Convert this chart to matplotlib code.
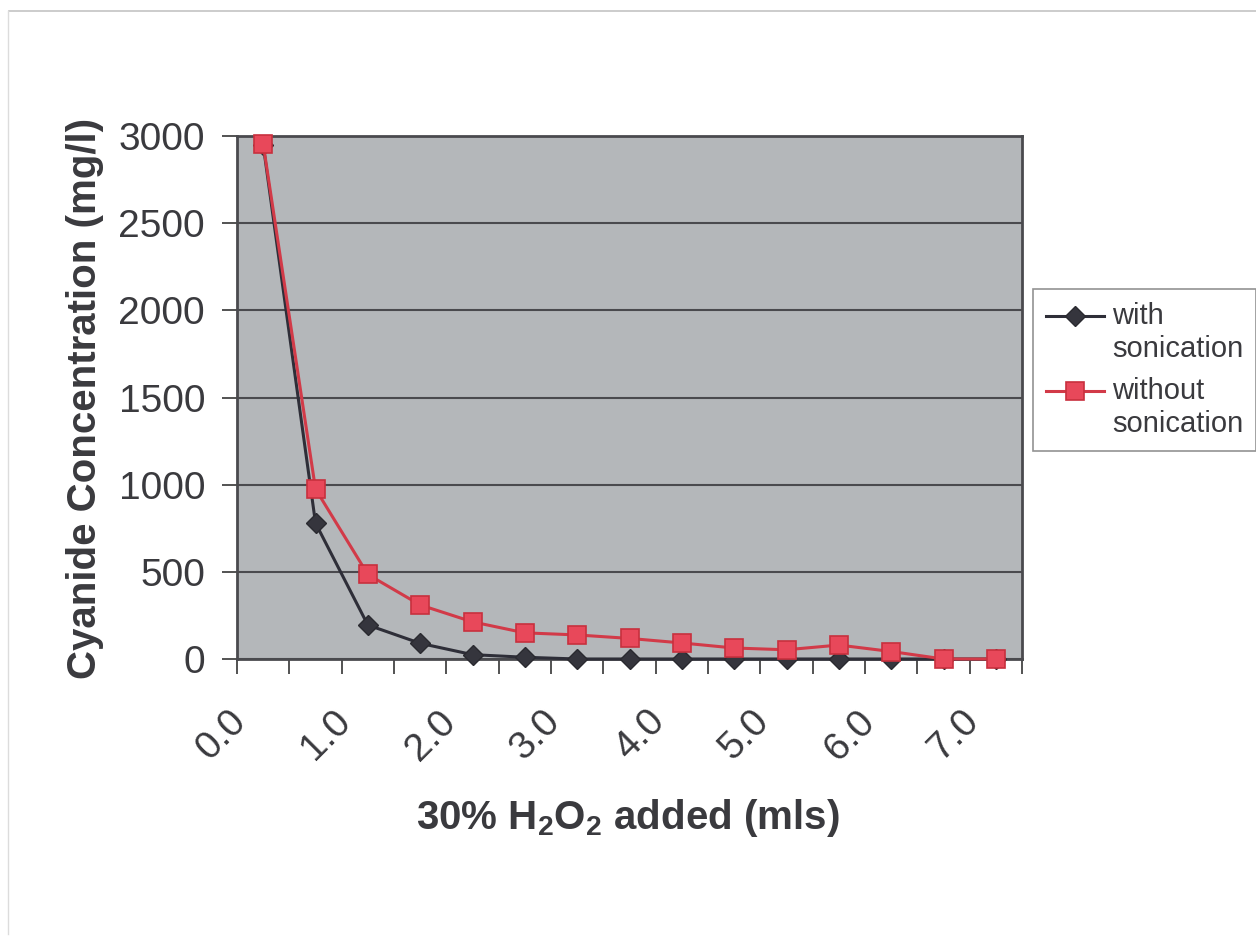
import matplotlib
matplotlib.use("Agg")
import matplotlib.pyplot as plt
from matplotlib.lines import Line2D
from matplotlib.legend_handler import HandlerLine2D
from matplotlib.transforms import ScaledTranslation
import numpy as np

plt.rcParams["font.family"] = ["Liberation Sans", "DejaVu Sans"]
plt.rcParams["mathtext.fontset"] = "custom"
plt.rcParams["mathtext.rm"] = "Liberation Sans"
plt.rcParams["mathtext.bf"] = "Liberation Sans:bold"

# 15 categories, 0.0 .. 7.0 mls in 0.5 steps; only every other one labelled
categories = ["0.0", "0.5", "1.0", "1.5", "2.0", "2.5", "3.0", "3.5",
              "4.0", "4.5", "5.0", "5.5", "6.0", "6.5", "7.0"]
with_sonication = [2950, 780, 195, 90, 25, 10, 0, 0, 0, 0, 0, 0, 0, 0, 0]
without_sonication = [2955, 975, 485, 310, 213, 150, 138, 118, 92, 63, 53, 80, 43, 0, 0]
y_ticks = [0, 500, 1000, 1500, 2000, 2500, 3000]

text_col = "#3a3a3e"
W, H = 1256, 943


class FirstLineHandler(HandlerLine2D):
    """Legend handle sitting on the first line of a two-line label (Excel style)."""

    def __init__(self, shift, **kw):
        super().__init__(**kw)
        self.shift = shift

    def create_artists(self, legend, orig_handle, xdescent, ydescent, width,
                       height, fontsize, trans):
        arts = super().create_artists(legend, orig_handle, xdescent, ydescent,
                                      width, height, fontsize, trans)
        for a in arts:
            a.set_ydata(np.asarray(a.get_ydata()) + self.shift)
        return arts


fig = plt.figure(figsize=(W / 100, H / 100), dpi=100)
fig.patch.set_facecolor("white")

left, right, top, bottom = 237, 1022, 136, 659
ax = fig.add_axes([left / W, 1 - bottom / H, (right - left) / W, (bottom - top) / H])
ax.set_facecolor("#b4b7ba")

x = np.arange(len(categories))
l1, = ax.plot(x, with_sonication, color="#2e2e38", lw=2.2, marker="D", ms=10,
              mfc="#35353d", mec="#2a2a30", label="with\nsonication", zorder=3,
              clip_on=False)
l2, = ax.plot(x, without_sonication, color="#d23a48", lw=2.2, marker="s", ms=13,
              mfc="#e8485a", mec="#c8303e", mew=1.2, label="without\nsonication",
              zorder=4, clip_on=False)

ax.set_xlim(-0.5, len(categories) - 0.5)
ax.set_ylim(0, 3000)

# tick marks between categories, labels on every second category
ax.set_xticks(np.arange(-0.5, len(categories), 1.0))
ax.set_xticklabels([])
ax.set_xticks(x[::2], minor=True)
ax.set_xticklabels(categories[::2], minor=True, rotation=45, ha="right",
                   fontsize=28, color=text_col)
ax.tick_params(axis="x", which="major", length=11, width=1.3, color="#444444",
               direction="out")
ax.tick_params(axis="x", which="minor", length=0, pad=32)
shift = ScaledTranslation(-7 / 72, 0, fig.dpi_scale_trans)
for lab in ax.get_xticklabels(minor=True):
    lab.set_transform(lab.get_transform() + shift)

ax.set_yticks(y_ticks)
ax.set_yticklabels([str(v) for v in y_ticks], fontsize=28, color=text_col)
ax.tick_params(axis="y", length=11, width=1.3, color="#444444", pad=12)

ax.yaxis.grid(True, color="#4a4a4e", lw=1.5)
ax.set_axisbelow(True)
for s in ax.spines.values():
    s.set_color("#4a4a4e")
    s.set_linewidth(2.0)

fig.text(85 / W, 1 - 398 / H, "Cyanide Concentration (mg/l)", rotation=90,
         ha="center", va="center", fontsize=29, fontweight="bold", color=text_col)
fig.text(628 / W, 1 - 818 / H,
         r"30% H$_\mathbf{2}$O$_\mathbf{2}$ added (mls)",
         ha="center", va="center", fontsize=29, fontweight="bold", color=text_col)

hmap = {l1: FirstLineHandler(12), l2: FirstLineHandler(12)}
leg = fig.legend(handles=[l1, l2], handler_map=hmap, loc="upper left",
                 bbox_to_anchor=(1033 / W, 1 - 289 / H),
                 fontsize=21, frameon=True, fancybox=False, borderpad=0.45,
                 handlelength=2.0, handletextpad=0.25, labelspacing=0.5,
                 borderaxespad=0)
leg.get_frame().set_edgecolor("#777777")
leg.get_frame().set_linewidth(1.2)
for t in leg.get_texts():
    t.set_color(text_col)
    t.set_linespacing(1.2)

# faint page border of the scanned sheet
fig.add_artist(Line2D([9 / W, 1], [1 - 11 / H, 1 - 11 / H], color="#c4c4c4", lw=1.2))
fig.add_artist(Line2D([8 / W, 8 / W], [0.01, 1 - 11 / H], color="#dcdcdc", lw=1.0))

fig.savefig("out.png", dpi=100, facecolor="white")
